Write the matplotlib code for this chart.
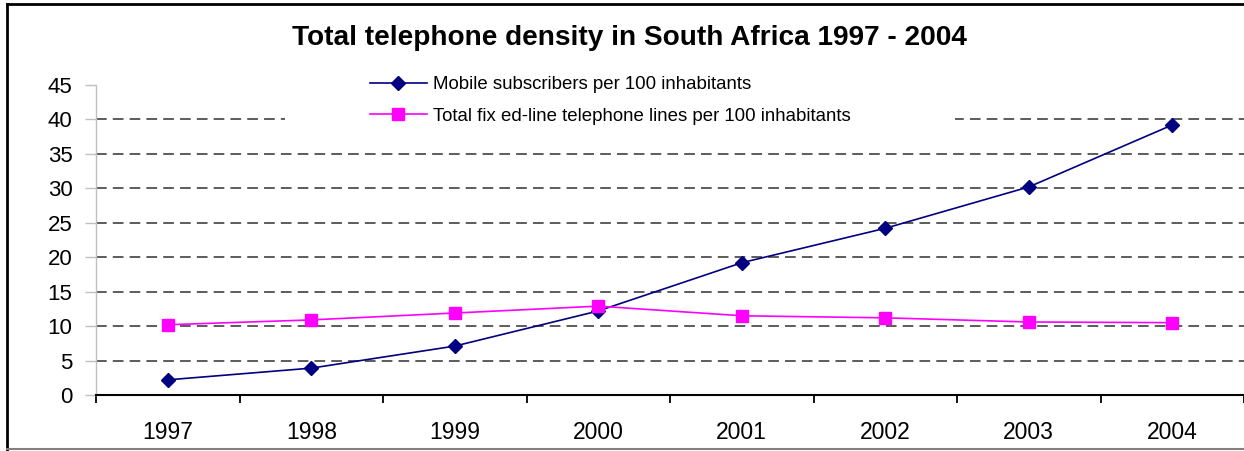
import matplotlib
matplotlib.use("Agg")
import matplotlib.pyplot as plt
from matplotlib.lines import Line2D
from matplotlib.patches import Rectangle

years = ["1997", "1998", "1999", "2000", "2001", "2002", "2003", "2004"]
mobile = [2.2, 3.9, 7.1, 12.2, 19.2, 24.2, 30.2, 39.2]
fixed = [10.2, 10.9, 11.9, 12.9, 11.5, 11.2, 10.6, 10.5]
y_ticks = [0, 5, 10, 15, 20, 25, 30, 35, 40, 45]
title = "Total telephone density in South Africa 1997 - 2004"
label_mobile = "Mobile subscribers per 100 inhabitants"
label_fixed = "Total fix ed-line telephone lines per 100 inhabitants"

plt.rcParams["font.family"] = ["Liberation Sans", "DejaVu Sans"]

W, H = 1244, 451
fig = plt.figure(figsize=(W / 100, H / 100), dpi=100)
ax = fig.add_axes([96 / W, (H - 395) / H, (W - 96) / W, 310 / H])

x = list(range(len(years)))
ax.plot(x, mobile, color="#000080", lw=1.2, marker="D", ms=7.5,
        label=label_mobile, zorder=3)
ax.plot(x, fixed, color="#FF00FF", lw=1.2, marker="s", ms=9,
        label=label_fixed, zorder=3)

ax.set_xlim(-0.5, len(years) - 0.5)
ax.set_ylim(0, 45)
ax.set_yticks(y_ticks)
ax.set_yticklabels([str(v) for v in y_ticks], fontsize=16)
ax.set_xticks(x)
ax.set_xticklabels(years, fontsize=16.5)
ax.set_xticks([i - 0.5 for i in range(len(years) + 1)], minor=True)
ax.tick_params(axis="x", which="major", length=0, pad=19)
ax.tick_params(axis="x", which="minor", length=6, width=1.3, direction="out", color="black")
ax.tick_params(axis="y", length=8, width=1, color="#c0c0c0", pad=9)

for s in ["top", "right"]:
    ax.spines[s].set_visible(False)
ax.spines["left"].set_color("#c0c0c0")
ax.spines["left"].set_linewidth(1)
ax.spines["bottom"].set_color("black")
ax.spines["bottom"].set_linewidth(1.5)

for v in y_ticks[1:-1]:
    ax.axhline(v, color="#303030", lw=1.1, ls=(0, (7, 4)), zorder=1)

# white area behind legend
ax.add_patch(Rectangle((285 / W, (H - 134) / H), (955 - 285) / W, 72 / H,
                       transform=fig.transFigure, facecolor="white",
                       edgecolor="none", zorder=2))

leg = ax.legend(loc="upper left", bbox_to_anchor=(370 / W, (H - 76) / H),
                bbox_transform=fig.transFigure, frameon=False, fontsize=13.4,
                handlelength=3.05, handletextpad=0.32, labelspacing=0.8,
                borderpad=0, borderaxespad=0)
leg.set_zorder(4)

fig.text(629 / W, (H - 38) / H, title, ha="center", va="center",
         fontsize=20.2, fontweight="bold")

# outer border
fig.add_artist(Line2D([7 / W, 7 / W], [0, (H - 4) / H], color="black", lw=2,
                      transform=fig.transFigure))
fig.add_artist(Line2D([7 / W, 1], [(H - 4) / H, (H - 4) / H], color="black", lw=2,
                      transform=fig.transFigure))
fig.add_artist(Line2D([7 / W, 1], [2 / H, 2 / H], color="#808080", lw=1.5,
                      transform=fig.transFigure))

fig.savefig("out.png", dpi=100)
